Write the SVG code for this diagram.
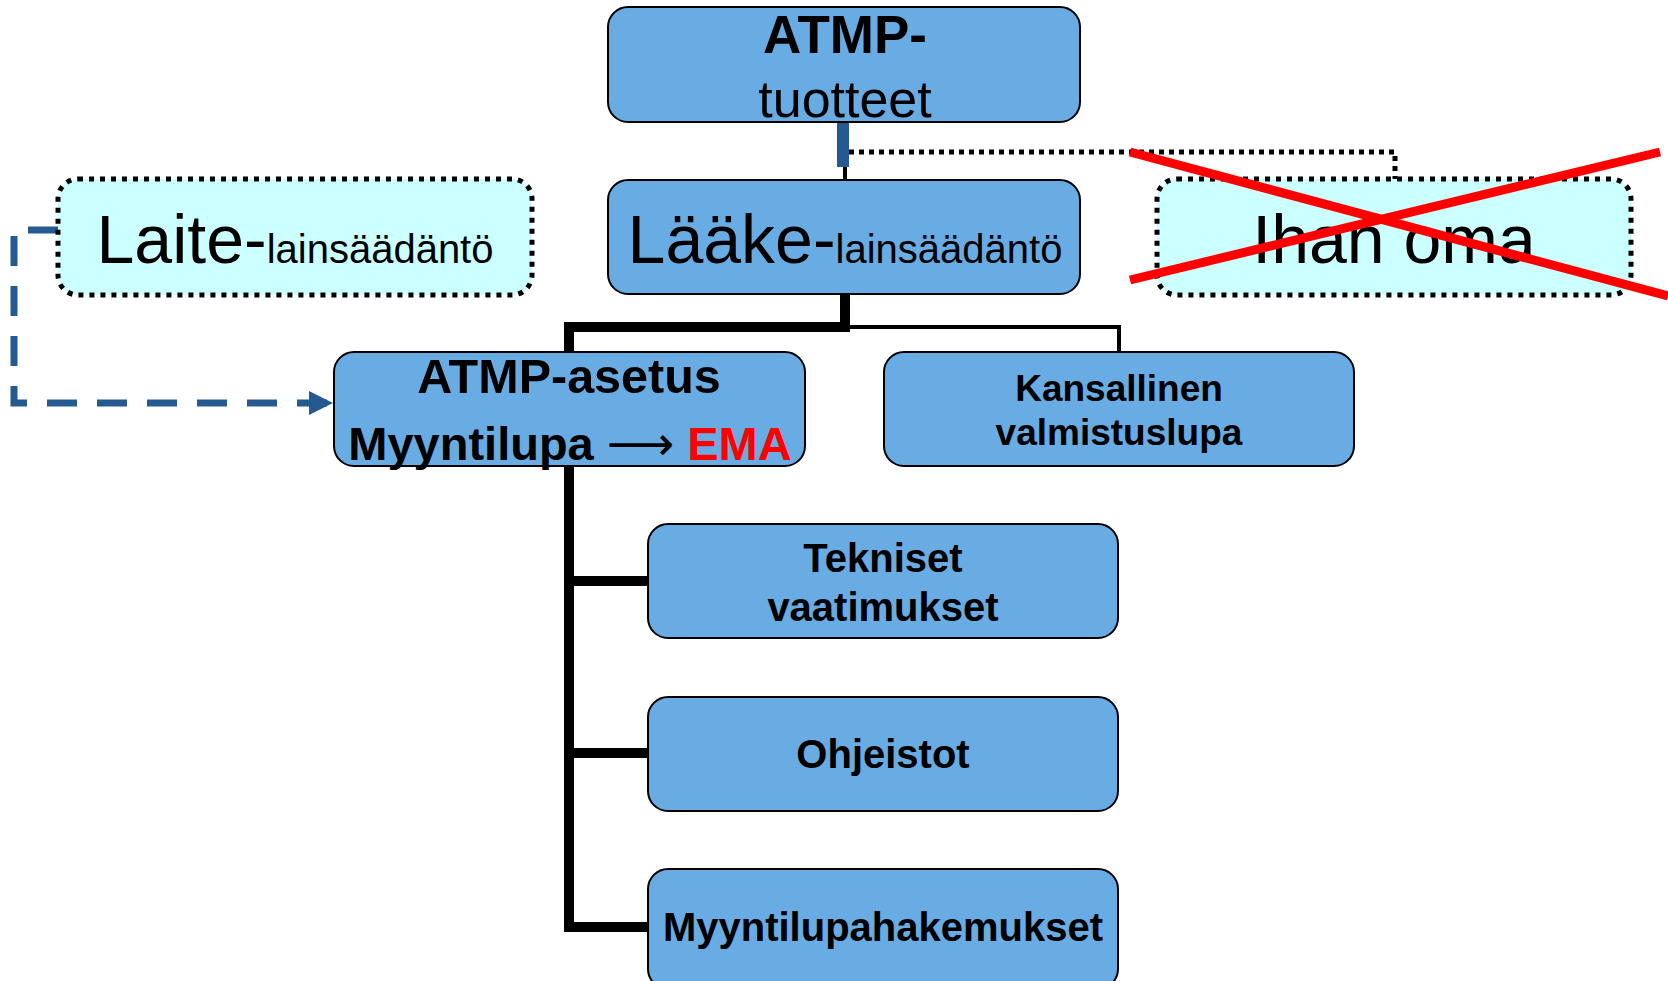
<svg xmlns="http://www.w3.org/2000/svg" width="1668" height="981" viewBox="0 0 1668 981">
<style>
.blue{fill:#69abe3;stroke:#000;stroke-width:2}
.cyan{fill:#ccffff;stroke:#000;stroke-width:5;stroke-dasharray:5 6}
text{font-family:"Liberation Sans",Arial,sans-serif;text-anchor:middle;fill:#000}
.b{font-weight:bold}
.thick{fill:none;stroke:#000;stroke-width:10;stroke-linejoin:miter}
.thin{fill:none;stroke:#000;stroke-width:4}
</style>
<defs>
<marker id="arr" viewBox="0 0 10 10" refX="10" refY="5" markerWidth="3.5" markerHeight="3.5" orient="auto" markerUnits="strokeWidth">
<path d="M0,0 L10,5 L0,10 Z" fill="#245a8f"/>
</marker>
</defs>
<g id="connectors">
<rect x="837" y="119" width="12" height="48" fill="#245a8f"/>
<line class="thin" x1="845" y1="167" x2="845" y2="180"/>
<path d="M849,152 H1395 V179" fill="none" stroke="#000" stroke-width="5" stroke-dasharray="5 5"/>
<path class="thick" d="M845,294 V327 H569 V352"/>
<path class="thin" d="M845,327 H1119 V352"/>
<path class="thick" d="M569,466 V927 H648 M569,581 H648 M569,753 H648"/>
<path d="M58,230 H14 V403 H333" fill="none" stroke="#245a8f" stroke-width="7" stroke-dasharray="30 20" marker-end="url(#arr)"/>
</g>
<g id="atmp-tuotteet">
<rect class="blue" x="608" y="7" width="472" height="115" rx="20"/>
<text class="b" x="845" y="53" font-size="53">ATMP-</text>
<text x="845" y="117" font-size="52">tuotteet</text>
</g>
<g id="laake">
<rect class="blue" x="608" y="180" width="472" height="114" rx="20"/>
<text x="845" y="263" font-size="68">Lääke-<tspan font-size="40">lainsäädäntö</tspan></text>
</g>
<g id="laite">
<rect class="cyan" x="58" y="179" width="474" height="116" rx="20"/>
<text x="295" y="263" font-size="68">Laite-<tspan font-size="40">lainsäädäntö</tspan></text>
</g>
<g id="ihan-oma">
<rect class="cyan" x="1157" y="179" width="474" height="116" rx="20"/>
<text x="1394" y="263" font-size="68">Ihan oma</text>
<line x1="1130" y1="152" x2="1668" y2="296" stroke="#ff0000" stroke-width="9"/>
<line x1="1130" y1="280" x2="1660" y2="152" stroke="#ff0000" stroke-width="9"/>
</g>
<g id="atmp-asetus">
<rect class="blue" x="334" y="352" width="471" height="114" rx="20"/>
<text class="b" x="569" y="393" font-size="48.5">ATMP-asetus</text>
<text class="b" x="570" y="460" font-size="47">Myyntilupa <tspan font-weight="normal" font-family="DejaVu Sans, sans-serif">⟶</tspan> <tspan fill="#ff0000">EMA</tspan></text>
</g>
<g id="kansallinen">
<rect class="blue" x="884" y="352" width="470" height="114" rx="20"/>
<text class="b" x="1119" y="401" font-size="37">Kansallinen</text>
<text class="b" x="1119" y="445" font-size="37">valmistuslupa</text>
</g>
<g id="tekniset">
<rect class="blue" x="648" y="524" width="470" height="114" rx="20"/>
<text class="b" x="883" y="572" font-size="40">Tekniset</text>
<text class="b" x="883" y="621" font-size="40">vaatimukset</text>
</g>
<g id="ohjeistot">
<rect class="blue" x="648" y="697" width="470" height="114" rx="20"/>
<text class="b" x="883" y="768" font-size="40">Ohjeistot</text>
</g>
<g id="myyntilupahakemukset">
<rect class="blue" x="648" y="869" width="470" height="120" rx="20"/>
<text class="b" x="883" y="941" font-size="40">Myyntilupahakemukset</text>
</g>
</svg>
